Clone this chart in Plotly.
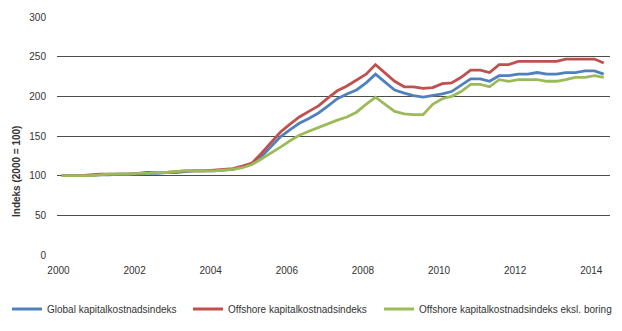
import plotly.graph_objects as go

years = [y for y in range(2000, 2015) for _ in range(4)][:58]
quarters = [q for _ in range(2000, 2015) for q in (1, 2, 3, 4)][:58]
# point dates: middle month of each quarter
dates = [f"{y}-{3 * (q - 1) + 2:02d}-01" for y, q in zip(years, quarters)]

global_idx = [100, 100, 100, 100, 101, 101, 102, 102, 102, 103, 103, 104, 104, 105, 106, 106,
              106, 107, 108, 111, 115, 124, 137, 149, 158, 166, 172, 179, 188, 197, 203, 208,
              217, 228, 218, 208, 204, 201, 199, 201, 203, 206, 214, 222, 222, 219, 226, 226,
              228, 228, 230, 228, 228, 230, 230, 232, 232, 228]
offshore_idx = [100, 100, 100, 101, 102, 102, 102, 102, 103, 104, 104, 104, 105, 106, 106, 106,
                107, 108, 109, 112, 116, 128, 141, 155, 165, 174, 181, 188, 198, 207, 213, 220,
                228, 240, 229, 219, 212, 212, 210, 211, 216, 217, 224, 233, 233, 230, 240, 240,
                244, 244, 244, 244, 244, 247, 247, 247, 247, 242]
offshore_ex_drill = [100, 100, 100, 100, 101, 102, 102, 102, 103, 103, 104, 104, 105, 106, 106, 106,
                     106, 107, 108, 110, 114, 121, 128, 136, 144, 151, 156, 161, 166, 170, 174, 180,
                     190, 199, 190, 181, 178, 177, 177, 190, 197, 200, 206, 215, 215, 212, 221, 219,
                     221, 221, 221, 219, 219, 221, 224, 224, 226, 224]

names = ["Global kapitalkostnadsindeks", "Offshore kapitalkostnadsindeks",
         "Offshore kapitalkostnadsindeks eksl. boring"]
colors = ["#4F81BD", "#C0504D", "#9BBB59"]
series = [global_idx, offshore_idx, offshore_ex_drill]

y_ticks = [0, 50, 100, 150, 200, 250, 300]
x_tick_years = [2000, 2002, 2004, 2006, 2008, 2010, 2012, 2014]

FONT = "Liberation Sans Narrow, Liberation Sans, Arial, sans-serif"
TXT = "#333333"

fig = go.Figure()
legend_ids = ["legend", "legend2", "legend3"]
for name, col, vals, lg in zip(names, colors, series, legend_ids):
    fig.add_trace(go.Scatter(x=dates, y=vals, mode="lines", name=name,
                             line=dict(color=col, width=2.8), legend=lg))

leg_common = dict(orientation="h", xref="container", yref="container", yanchor="middle",
                  xanchor="left", font=dict(family=FONT, size=10, color=TXT),
                  bgcolor="rgba(0,0,0,0)", itemwidth=30)
fig.update_layout(
    width=622, height=331,
    margin=dict(l=57, r=12, t=17, b=76),
    paper_bgcolor="white", plot_bgcolor="white",
    font=dict(family=FONT, size=10, color=TXT),
    showlegend=True,
    legend=dict(x=7 / 622, y=1 - 309 / 331, **leg_common),
    legend2=dict(x=188 / 622, y=1 - 309 / 331, **leg_common),
    legend3=dict(x=379 / 622, y=1 - 309 / 331, **leg_common),
    xaxis=dict(type="date", range=["1999-12-18", "2014-06-30"],
               tickvals=[f"{y}-01-01" for y in x_tick_years],
               ticktext=[str(y) for y in x_tick_years],
               showgrid=False, zeroline=False, showline=False, ticks="",
               ticklabelstandoff=8, tickfont=dict(family=FONT, size=10, color=TXT)),
    yaxis=dict(range=[0, 300], tickvals=y_ticks, showgrid=True, gridcolor="#4d4d4d",
               gridwidth=1, zeroline=False, showline=False, ticks="",
               ticklabelstandoff=10, tickfont=dict(family=FONT, size=10, color=TXT)),
    annotations=[dict(text="<b>Indeks (2000 = 100)</b>", textangle=-90,
                      xref="paper", yref="paper", x=-41 / 553, y=(255 - 172) / 238,
                      showarrow=False, font=dict(family=FONT, size=10, color=TXT),
                      xanchor="center", yanchor="middle")],
)

fig.write_html("out.html")
